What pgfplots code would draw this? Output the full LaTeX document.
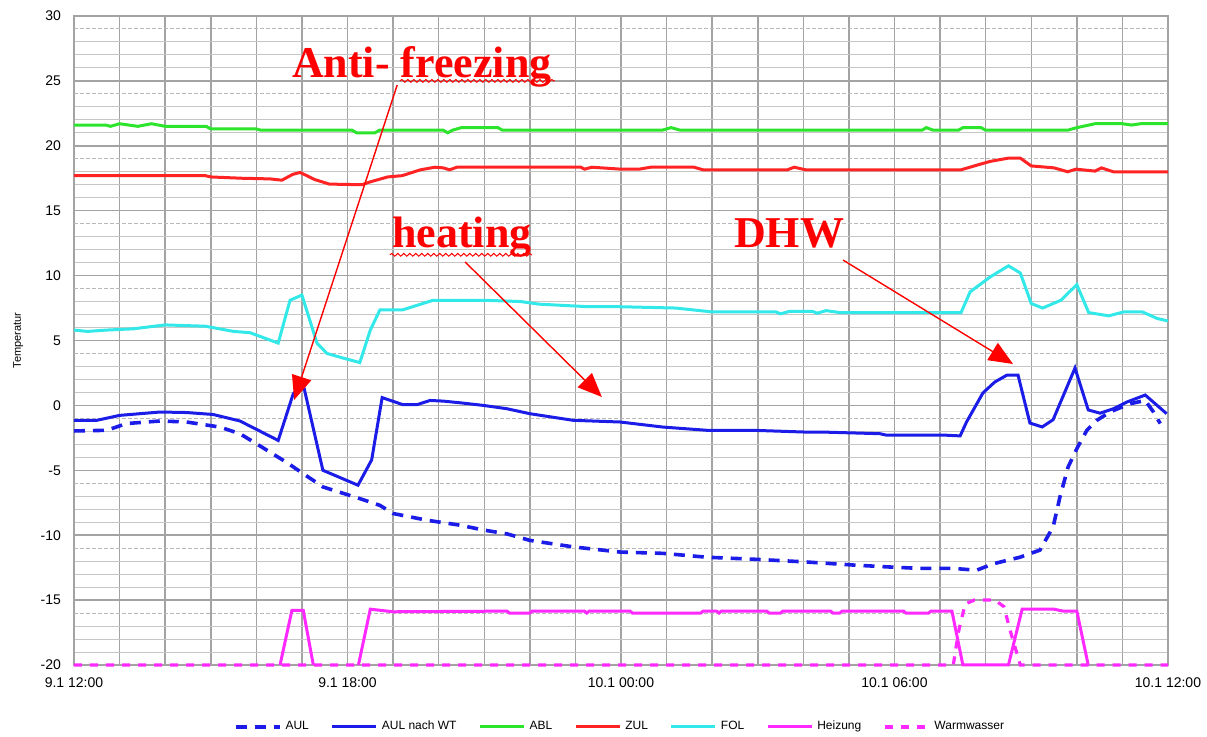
\documentclass[border=0pt]{standalone}
\usepackage{pgfplots}
\pgfplotsset{compat=1.18}
\usepackage{fontspec}
\setmainfont{Liberation Sans}
\newfontfamily\annotfont{Liberation Serif}
\usetikzlibrary{arrows.meta,decorations.pathmorphing}

\definecolor{aulblue}{RGB}{28,28,232}
\definecolor{ablgreen}{RGB}{45,228,45}
\definecolor{zulred}{RGB}{255,35,35}
\definecolor{folcyan}{RGB}{50,232,232}
\definecolor{heizmag}{RGB}{255,40,255}
\definecolor{noteRed}{RGB}{255,0,0}

\begin{document}
\begin{tikzpicture}
\begin{axis}[
  scale only axis, width=547pt, height=324.5pt,
  xmin=0, xmax=24, ymin=-20, ymax=30,
  clip=false,
  xtick={0,1,...,24},
  xticklabels={9.1 12:00,,,,,,9.1 18:00,,,,,,10.1 00:00,,,,,,10.1 06:00,,,,,,10.1 12:00},
  ytick={-20,-15,...,30},
  minor ytick={-19,-18,-17,-14,-13,-12,-9,-8,-7,-4,-3,-2,1,2,3,6,7,8,11,12,13,16,17,18,21,22,23,26,27,28},
  extra y ticks={-16,-11,-6,-1,4,9,14,19,24,29},
  extra y tick labels={},
  extra y tick style={grid=major, major grid style={gray!55, line width=0.5pt, dash pattern=on 2pt off 1pt}},
  grid=both,
  major grid style={gray!72, line width=0.75pt},
  minor grid style={gray!45, line width=0.5pt},
  major tick length=0pt, minor tick length=0pt,
  axis line style={gray!72, line width=0.75pt},
  /pgf/number format/assume math mode=true,
  yticklabel style={font=\fontsize{7}{8}\selectfont, xshift=-3pt},
  xticklabel style={font=\fontsize{7}{8}\selectfont, yshift=-3pt},
  ylabel={Temperatur},
  ylabel style={font=\fontsize{5.5}{6}\selectfont, at={(axis description cs:-0.051,0.5)}, anchor=center},
  legend columns=-1,
  legend image code/.code={\draw[#1] (0pt,0pt) -- (22pt,0pt);},
  legend style={at={(0.5,-0.0955)}, anchor=center, draw=none, fill=none,
    font=\fontsize{6}{7}\selectfont,
    /tikz/every even column/.append style={column sep=9pt}},
]

% outside air
\addplot[aulblue, line width=1.8pt, dash pattern=on 5.5pt off 4pt] coordinates {
(0,-1.97) (0.72,-1.92) (1.15,-1.4) (1.89,-1.2) (2.47,-1.28) (3.2,-1.67) (3.64,-2.18)
(4.06,-3.08) (4.65,-4.36) (5.46,-6.28) (6.27,-7.18) (6.71,-7.7) (7.0,-8.33) (7.75,-8.85)
(8.47,-9.23) (8.98,-9.6) (9.5,-9.9) (10.0,-10.4) (10.95,-10.9) (11.98,-11.3) (12.92,-11.4)
(13.89,-11.7) (14.9,-11.85) (16.0,-12.05) (17.1,-12.3) (17.83,-12.44) (18.56,-12.56)
(19.3,-12.56) (19.8,-12.7) (20.17,-12.2) (20.75,-11.7) (21.19,-11.15) (21.48,-9.36)
(21.63,-7.05) (21.81,-4.74) (22.0,-3.33) (22.22,-1.92) (22.44,-1.15) (22.73,-0.5)
(23.17,0.13) (23.5,0.38) (23.68,-0.5) (23.83,-1.4)};
\addlegendentry{AUL}

% outside air after the heat exchanger
\addplot[aulblue, line width=1.5pt] coordinates {
(0,-1.15) (0.5,-1.15) (1.0,-0.77) (1.89,-0.51) (2.47,-0.55) (3.05,-0.7) (3.64,-1.2)
(4.48,-2.7) (4.81,0.9) (5.03,1.6) (5.46,-5.0) (6.23,-6.15) (6.53,-4.2) (6.76,0.6)
(7.22,0.05) (7.52,0.05) (7.81,0.38) (8.1,0.33) (8.47,0.2) (8.98,0.0) (9.5,-0.26)
(10.0,-0.64) (10.95,-1.15) (11.98,-1.28) (12.92,-1.67) (13.89,-1.92) (14.9,-1.92)
(16.0,-2.05) (16.37,-2.05) (17.68,-2.18) (17.83,-2.3) (19.15,-2.3) (19.44,-2.35)
(19.58,-1.28) (19.94,0.96) (20.2,1.8) (20.47,2.34) (20.71,2.34) (20.97,-1.36)
(21.24,-1.66) (21.48,-1.1) (21.96,2.88) (22.25,-0.35) (22.51,-0.6) (22.8,-0.26)
(23.1,0.26) (23.5,0.8) (23.97,-0.64)};
\addlegendentry{AUL nach WT}

% extract air
\addplot[ablgreen, line width=1.5pt] coordinates {
(0,21.6) (0.7,21.6) (0.8,21.5) (1.0,21.7) (1.4,21.5) (1.7,21.7) (2.0,21.5) (2.9,21.5)
(3.0,21.3) (4.0,21.3) (4.1,21.2) (6.1,21.2) (6.2,21.0) (6.6,21.0) (6.7,21.2) (8.1,21.2)
(8.2,21.0) (8.3,21.2) (8.5,21.4) (9.3,21.4) (9.4,21.2) (12.9,21.2) (13.1,21.4) (13.3,21.2)
(18.6,21.2) (18.7,21.4) (18.85,21.2) (19.4,21.2) (19.5,21.4) (19.9,21.4) (20.0,21.2)
(21.8,21.2) (22.0,21.4) (22.4,21.7) (23.0,21.7) (23.2,21.6) (23.4,21.7) (24,21.7)};
\addlegendentry{ABL}

% supply air
\addplot[zulred, line width=1.5pt] coordinates {
(0,17.7) (2.88,17.7) (3.0,17.6) (3.68,17.5) (4.3,17.45) (4.56,17.35) (4.8,17.8)
(4.96,17.95) (5.28,17.4) (5.6,17.05) (6.32,17.0) (6.48,17.2) (6.88,17.6) (7.2,17.7)
(7.6,18.15) (7.92,18.35) (8.1,18.3) (8.24,18.15) (8.4,18.35) (11.12,18.35) (11.2,18.2)
(11.36,18.35) (12.0,18.2) (12.4,18.2) (12.65,18.35) (13.6,18.35) (13.8,18.15)
(15.65,18.15) (15.8,18.35) (16.05,18.15) (19.46,18.15) (19.8,18.5) (20.1,18.8)
(20.5,19.05) (20.76,19.05) (21.0,18.45) (21.5,18.3) (21.8,18.0) (21.98,18.2)
(22.4,18.05) (22.54,18.3) (22.8,18.0) (24,18.0)};
\addlegendentry{ZUL}

% exhaust air
\addplot[folcyan, line width=1.5pt] coordinates {
(0,5.8) (0.3,5.7) (0.7,5.8) (1.3,5.9) (2.0,6.2) (2.88,6.1) (3.5,5.7) (3.86,5.6)
(4.48,4.8) (4.74,8.1) (5.0,8.5) (5.33,4.8) (5.55,4.0) (5.9,3.65) (6.27,3.3) (6.5,5.8)
(6.71,7.35) (7.2,7.35) (7.88,8.1) (8.5,8.1) (9.0,8.1) (9.8,8.0) (10.2,7.8) (11.3,7.6)
(12.0,7.6) (13.2,7.5) (13.6,7.35) (14.0,7.2) (15.4,7.2) (15.5,7.05) (15.7,7.25)
(16.2,7.25) (16.3,7.1) (16.5,7.3) (16.8,7.15) (19.46,7.15) (19.66,8.75) (20.1,9.9)
(20.5,10.75) (20.76,10.2) (21.0,7.85) (21.25,7.5) (21.65,8.1) (22.0,9.3) (22.26,7.15)
(22.7,6.9) (23.03,7.2) (23.44,7.2) (23.76,6.7) (24,6.5)};
\addlegendentry{FOL}

% heating signal
\addplot[heizmag, line width=1.5pt, forget plot] coordinates {
(4.52,-20) (4.78,-15.8) (5.03,-15.8) (5.25,-20)};
\addplot[heizmag, line width=1.5pt] coordinates {
(6.24,-20) (6.5,-15.7) (7.0,-15.9) (9.5,-15.85) (9.55,-16.0) (10.0,-16.0) (10.05,-15.85)
(11.2,-15.85) (11.25,-16.0) (11.3,-15.85) (12.2,-15.85) (12.25,-16.0) (13.75,-16.0)
(13.8,-15.85) (14.1,-15.85) (14.15,-16.0) (14.2,-15.85) (15.2,-15.85) (15.25,-16.0)
(15.5,-16.0) (15.55,-15.85) (16.6,-15.85) (16.65,-16.0) (16.8,-16.0) (16.85,-15.85)
(18.2,-15.85) (18.25,-16.0) (18.75,-16.0) (18.8,-15.85) (19.26,-15.85) (19.5,-20)
(20.5,-20) (20.8,-15.7) (21.5,-15.7) (21.7,-15.85) (22.0,-15.85) (22.25,-20)};
\addlegendentry{Heizung}

% hot water signal
\addplot[heizmag, line width=1.6pt, dash pattern=on 4pt off 4pt] coordinates {
(0,-20) (19.29,-20) (19.4,-17.5) (19.55,-15.3) (19.75,-15.0) (20.2,-15.0) (20.4,-15.5)
(20.55,-17.5) (20.76,-20) (24,-20)};
\addlegendentry{Warmwasser}

% annotations
\node[text=noteRed, font=\annotfont\bfseries\fontsize{22}{24}\selectfont, anchor=base] at (7.63,25.3) {Anti- freezing};
\node[text=noteRed, font=\annotfont\bfseries\fontsize{22}{24}\selectfont, anchor=base] at (8.51,12.2) {heating};
\node[text=noteRed, font=\annotfont\bfseries\fontsize{22}{24}\selectfont, anchor=base] at (15.69,12.2) {DHW};
\draw[noteRed, line width=0.5pt, decorate, decoration={snake, amplitude=0.7pt, segment length=3pt}] (7.15,25.0) -- (10.55,25.0);
\draw[noteRed, line width=0.5pt, decorate, decoration={snake, amplitude=0.7pt, segment length=3pt}] (6.93,11.6) -- (10.05,11.6);
\draw[noteRed, line width=0.7pt, -{Triangle[length=12pt,width=10pt]}] (7.09,24.68) -- (4.83,0.42);
\draw[noteRed, line width=0.7pt, -{Triangle[length=12pt,width=10pt]}] (8.58,11.05) -- (11.58,0.65);
\draw[noteRed, line width=0.7pt, -{Triangle[length=12pt,width=10pt]}] (16.87,11.2) -- (20.6,3.19);
\end{axis}
\pgfresetboundingbox
\useasboundingbox (current axis.south west) ++(-37pt,-36pt) rectangle ++(603.5pt,368.5pt);
\end{tikzpicture}
\end{document}
